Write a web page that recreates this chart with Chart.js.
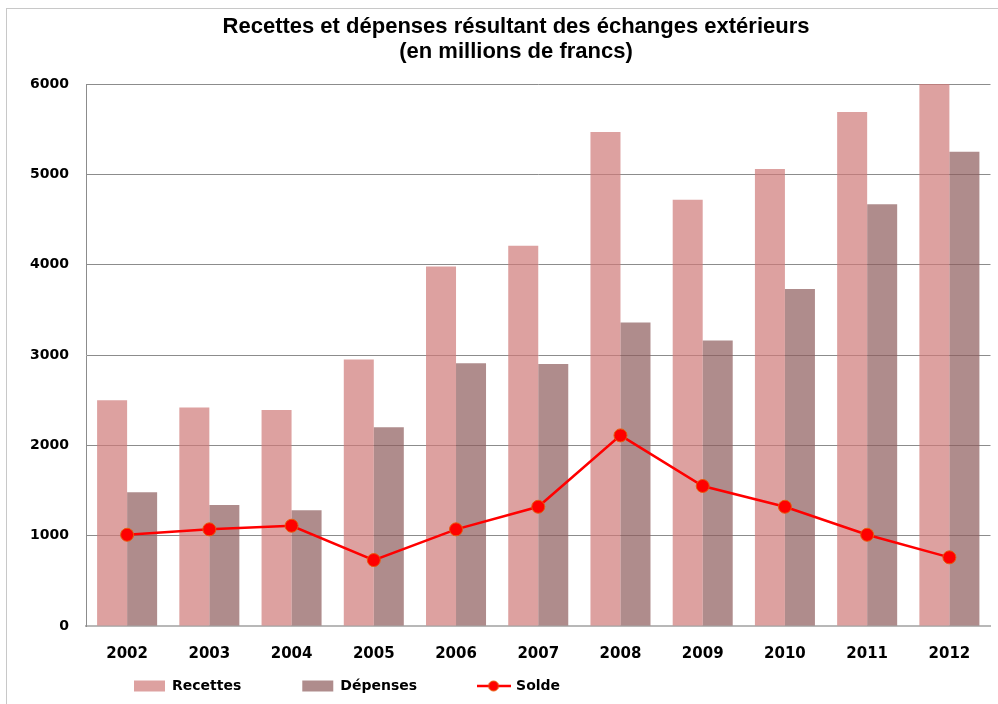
<!DOCTYPE html>
<html>
<head>
<meta charset="utf-8">
<script src="https://cdn.jsdelivr.net/npm/chart.js@4/dist/chart.umd.min.js"></script>
<style>
  html, body { margin: 0; padding: 0; background: #fff; }
  #wrap { position: relative; width: 998px; height: 704px; overflow: hidden; }
  #frame { position: absolute; left: 6px; top: 8px; width: 1200px; height: 1200px; border: 1px solid #c8c8c8; }
  #chart { position: absolute; left: 0; top: 0; }
</style>
</head>
<body>
<div id="wrap">
  <div id="frame"></div>
  <canvas id="chart" width="998" height="704"></canvas>
</div>
<script>
const years = ['2002', '2003', '2004', '2005', '2006', '2007', '2008', '2009', '2010', '2011', '2012'];
const recettes = [2500, 2420, 2390, 2950, 3980, 4210, 5470, 4720, 5060, 5690, 6000];
const depenses = [1480, 1340, 1280, 2200, 2910, 2900, 3360, 3160, 3730, 4670, 5250];
const solde = [1010, 1070, 1110, 730, 1070, 1320, 2110, 1550, 1320, 1010, 760];
const yTicks = [0, 1000, 2000, 3000, 4000, 5000, 6000];

// little line + dot used as the legend marker for Solde
const soldeMark = document.createElement('canvas');
soldeMark.width = 34;
soldeMark.height = 14;
(function () {
  const c = soldeMark.getContext('2d');
  c.strokeStyle = '#ff0000';
  c.lineWidth = 2.5;
  c.beginPath();
  c.moveTo(0, 7);
  c.lineTo(34, 7);
  c.stroke();
  c.fillStyle = '#ff0000';
  c.beginPath();
  c.arc(17, 7, 5, 0, Math.PI * 2);
  c.fill();
  c.strokeStyle = '#e8590c';
  c.lineWidth = 1;
  c.stroke();
})();

// moves the title and the legend row to where the reference has them
const placeBlocks = {
  id: 'placeBlocks',
  afterLayout(chart) {
    const t = chart.titleBlock;
    t.left = 40;
    t.right = 992;
    t.width = t.right - t.left;

    const lg = chart.legend;
    const pad = lg.options.labels.padding;
    lg.left = 134 - pad;
    lg.right = 998;
    lg.top = 686 - 7 - pad;
    lg.bottom = 704;
    lg.width = lg.right - lg.left;
    lg.height = lg.bottom - lg.top;
  }
};

new Chart(document.getElementById('chart'), {
  data: {
    labels: years,
    datasets: [
      {
        type: 'bar',
        label: 'Recettes',
        data: recettes,
        backgroundColor: 'rgba(206,121,120,0.7)',
        borderWidth: 0,
        categoryPercentage: 0.73,
        barPercentage: 1.0
      },
      {
        type: 'bar',
        label: 'Dépenses',
        data: depenses,
        backgroundColor: 'rgba(141,91,91,0.7)',
        borderWidth: 0,
        categoryPercentage: 0.73,
        barPercentage: 1.0
      },
      {
        type: 'line',
        label: 'Solde',
        data: solde,
        order: -1,
        borderColor: '#ff0000',
        borderWidth: 2.5,
        pointRadius: 6.5,
        pointBackgroundColor: '#ff0000',
        pointBorderColor: '#e8590c',
        pointBorderWidth: 1,
        tension: 0,
        fill: false
      }
    ]
  },
  options: {
    responsive: false,
    animation: false,
    layout: { padding: { left: 18, right: 6, top: 0, bottom: 0 } },
    plugins: {
      title: {
        display: true,
        text: ['Recettes et dépenses résultant des échanges extérieurs', '(en millions de francs)'],
        color: '#000',
        font: { family: 'Liberation Sans', size: 22, weight: 'bold', lineHeight: 25 / 22 },
        padding: { top: 14, bottom: 20 }
      },
      legend: {
        position: 'bottom',
        align: 'start',
        maxHeight: 22,
        labels: {
          padding: 61,
          color: '#000',
          font: { family: 'DejaVu Sans', size: 14, weight: 'bold' },
          usePointStyle: true,
          pointStyleWidth: 31,
          boxWidth: 31,
          boxHeight: 11,
          sort: (a, b) => a.datasetIndex - b.datasetIndex,
          generateLabels(chart) {
            const items = Chart.defaults.plugins.legend.labels.generateLabels(chart);
            items.forEach(it => {
              it.lineWidth = 0;
              it.pointStyle = it.datasetIndex === 2 ? soldeMark : 'rect';
            });
            return items;
          }
        }
      },
      tooltip: { enabled: false }
    },
    scales: {
      x: {
        grid: { display: false, drawTicks: false },
        border: { color: '#b8b8b8', width: 2 },
        ticks: {
          color: '#000',
          padding: 19,
          font: { family: 'DejaVu Sans', size: 15, weight: 'bold' }
        }
      },
      y: {
        min: yTicks[0],
        max: yTicks[yTicks.length - 1],
        afterFit(scale) { scale.width = 68; },
        afterBuildTicks(scale) { scale.ticks = yTicks.map(v => ({ value: v })); },
        grid: { color: '#8c8c8c', lineWidth: 1, drawTicks: false },
        border: { color: '#8c8c8c', width: 1 },
        ticks: {
          color: '#000',
          padding: 17,
          callback: v => String(v),
          font: { family: 'DejaVu Sans', size: 14, weight: 'bold' }
        }
      }
    }
  },
  plugins: [placeBlocks]
});
</script>
</body>
</html>
